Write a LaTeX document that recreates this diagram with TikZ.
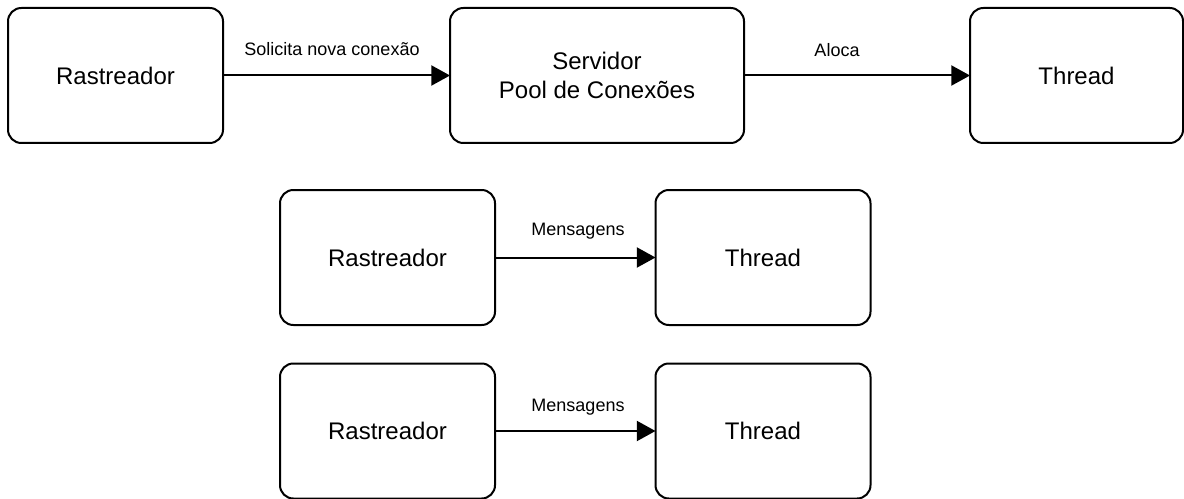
\documentclass[tikz,border=0pt]{standalone}
\usepackage{fontspec}
\setmainfont{Liberation Sans}
\usetikzlibrary{arrows.meta}
\begin{document}
\begin{tikzpicture}[x=0.75pt,y=-0.75pt,
  box/.style={draw, line width=1.5pt, rounded corners=10pt, align=center,
    font=\fontsize{18}{21.75}\selectfont, inner sep=0pt, outer sep=0pt,
    minimum height=101.25pt},
  narrowbox/.style={box, minimum width=161.25pt},
  arr/.style={line width=1.5pt, -{Triangle[length=14pt,width=15pt]}},
  lab/.style={font=\fontsize{13.5}{16}\selectfont, inner sep=0pt}]
\useasboundingbox (0,0) rectangle (1184,499);

% top row: client, server pool, worker thread
\node[narrowbox] (r1) at (115.5,75.5) {Rastreador};
\node[box, minimum width=220.5pt] (srv) at (597,75.5) {Servidor\\Pool de Conexões};
\node[box, minimum width=159.75pt] (t1) at (1076.5,75.5) {Thread};
\draw[arr] (r1) -- (srv);
\draw[arr] (srv) -- (t1);
\node[lab] (l1) at (332,49) {Solicita nova conexão};
\node[lab] (l2) at (837,50) {Aloca};

% second row
\node[narrowbox] (r2) at (387.5,257.5) {Rastreador};
\node[narrowbox] (t2) at (763,257.5) {Thread};
\draw[arr] (r2) -- (t2);
\node[lab] (l3) at (578,231) {Mensagens};

% third row
\node[narrowbox] (r3) at (387.5,431) {Rastreador};
\node[narrowbox] (t3) at (763,431) {Thread};
\draw[arr] (r3) -- (t3);
\node[lab] (l4) at (578,407) {Mensagens};
\end{tikzpicture}
\end{document}
